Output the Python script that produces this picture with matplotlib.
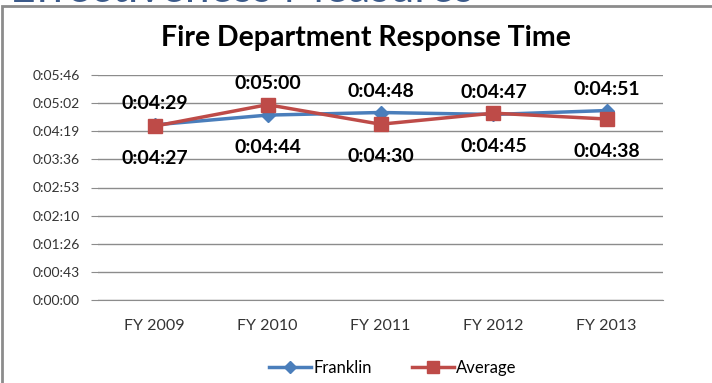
import matplotlib.pyplot as plt
from matplotlib.patches import Rectangle
from matplotlib.ticker import FixedLocator, FuncFormatter

plt.rcParams['font.family'] = ['Lato', 'DejaVu Sans']

years = ['FY 2009', 'FY 2010', 'FY 2011', 'FY 2012', 'FY 2013']
# response times in seconds
franklin = [4 * 60 + 29, 4 * 60 + 44, 4 * 60 + 48, 4 * 60 + 45, 4 * 60 + 51]
average = [4 * 60 + 27, 5 * 60 + 0, 4 * 60 + 30, 4 * 60 + 47, 4 * 60 + 38]
y_step = 43.2  # 0.0005 day
y_max = 345.6


def hms(sec):
    sec = int(round(sec))
    return f"{sec // 3600}:{(sec % 3600) // 60:02d}:{sec % 60:02d}"


fig = plt.figure(figsize=(7.12, 3.83), dpi=100)
W, H = 712, 383

# frame of the embedded chart and the cut-off slide heading
fig.patches.append(Rectangle((2 / W, -0.1), 1.2, 1 - 5.5 / H + 0.1, transform=fig.transFigure,
                             fill=False, edgecolor='#8c8c8c', linewidth=2))
fig.text(10 / W, 1 - 1.5 / H, 'Effectiveness Measures', fontsize=32, color='#3b5a8a',
         ha='left', va='baseline')

ax = fig.add_axes([98 / W, (H - 300) / H, (663 - 98) / W, (300 - 75) / H])
x = list(range(len(years)))
ax.plot(x, franklin, color='#4a7ebb', linewidth=2.5, marker='D', markersize=7, label='Franklin', zorder=3)
ax.plot(x, average, color='#be4b48', linewidth=2.5, marker='s', markersize=10, label='Average', zorder=4)

for i in x:
    f, a = franklin[i], average[i]
    ax.annotate(hms(max(f, a)), (i, max(f, a)), xytext=(0, 9), textcoords='offset points',
                ha='center', va='bottom', fontsize=14, fontweight='bold')
    ax.annotate(hms(min(f, a)), (i, min(f, a)), xytext=(0, -17), textcoords='offset points',
                ha='center', va='top', fontsize=14, fontweight='bold')

ax.set_xlim(-0.5, len(years) - 0.5)
ax.set_ylim(0, y_max)
ticks = [y_step * k for k in range(9)]
ax.yaxis.set_major_locator(FixedLocator(ticks))
ax.yaxis.set_major_formatter(FuncFormatter(lambda v, p: hms(v)))
ax.set_xticks(x)
ax.set_xticklabels(years)
ax.grid(axis='y', color='#8c8c8c', linewidth=1)
ax.set_axisbelow(True)
for s in ['top', 'right', 'left']:
    ax.spines[s].set_visible(False)
ax.spines['bottom'].set_color('#8c8c8c')
ax.tick_params(axis='y', length=5, colors='#8c8c8c', labelcolor='#333333', labelsize=10, pad=8)
ax.tick_params(axis='x', length=0, labelsize=11.5, pad=14, labelcolor='#333333')

fig.text(366 / W, 1 - 38 / H, 'Fire Department Response Time', fontsize=20.5, fontweight='bold',
         ha='center', va='center')

fig.legend(loc='center', bbox_to_anchor=(393 / W, 1 - 368 / H), ncol=2, frameon=False,
           fontsize=12, handlelength=2.5, columnspacing=2.4, handletextpad=0.15, markerscale=0.85)

fig.savefig('out.png', dpi=100)
